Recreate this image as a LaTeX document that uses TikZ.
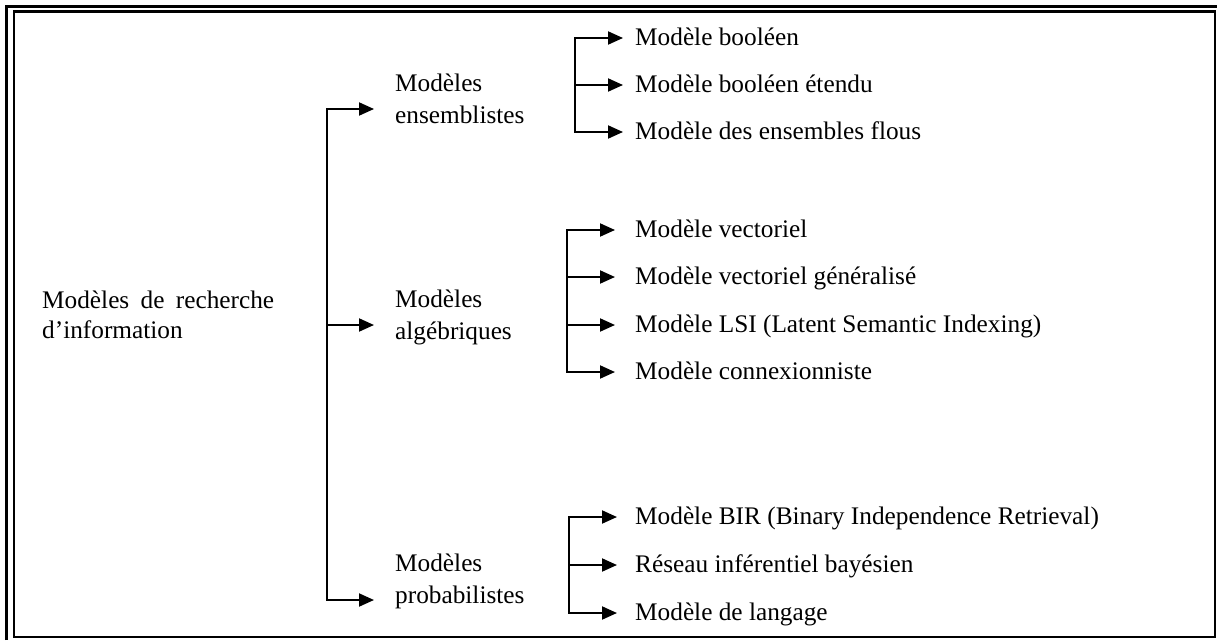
\documentclass[tikz,border=0pt]{standalone}
\usepackage{fontspec}
\setmainfont{Liberation Serif}
\usetikzlibrary{arrows.meta}
\begin{document}
\begin{tikzpicture}[x=1pt,y=-1pt,
  conn/.style={line width=2pt,line cap=rect},
  arr/.style={conn,-{Triangle[length=15pt,width=13pt]}},
  frameline/.style={line width=3pt},
  rootlabel/.style={anchor=north west,inner sep=0pt,text width=232pt,align=justify,
    font=\fontsize{25.3}{30}\selectfont},
  midlabel/.style={anchor=north west,inner sep=0pt,align=left,
    font=\fontsize{25.3}{32}\selectfont},
  leaflabel/.style={anchor=base west,inner sep=0pt,font=\fontsize{25.3}{30}\selectfont}]
\useasboundingbox (0,0) rectangle (1217,640);

% double frame
\draw[frameline] (6.5,640) -- (6.5,6.5) -- (1217,6.5);
\draw[line width=2.5pt] (14,11.5) rectangle (1215,637);

% root and first level
\node[rootlabel] (root) at (42,291) {Modèles de recherche d’information};
\node[midlabel] (m1) at (395,74)  {Modèles\\ensemblistes};
\node[midlabel] (m2) at (395,290) {Modèles\\algébriques};
\node[midlabel] (m3) at (395,554) {Modèles\\probabilistes};

\coordinate (s1) at (327,109);
\coordinate (s2) at (327,325);
\coordinate (s3) at (327,600);
\draw[conn] (s1) -- (s3);
\draw[arr,shorten >=21pt] (s1) -- (m1.west |- s1);
\draw[arr,shorten >=21pt] (s2) -- (m2.west |- s2);
\draw[arr,shorten >=21pt] (s3) -- (m3.west |- s3);

% set-theoretic models
\node[leaflabel] (a1) at (635,45.5)  {Modèle booléen};
\node[leaflabel] (a2) at (635,92.5)  {Modèle booléen étendu};
\node[leaflabel] (a3) at (635,139.5) {Modèle des ensembles flous};
\coordinate (ga1) at (575,38);
\coordinate (ga2) at (575,85);
\coordinate (ga3) at (575,132);
\draw[conn] (ga1) -- (ga3);
\draw[arr,shorten >=12pt] (ga1) -- (a1.west |- ga1);
\draw[arr,shorten >=12pt] (ga2) -- (a2.west |- ga2);
\draw[arr,shorten >=12pt] (ga3) -- (a3.west |- ga3);

% algebraic models
\node[leaflabel] (b1) at (635,237.5) {Modèle vectoriel};
\node[leaflabel] (b2) at (635,284.5) {Modèle vectoriel généralisé};
\node[leaflabel] (b3) at (635,332.5) {Modèle LSI (Latent Semantic Indexing)};
\node[leaflabel] (b4) at (635,379.5) {Modèle connexionniste};
\coordinate (gb1) at (567,230);
\coordinate (gb2) at (567,277);
\coordinate (gb3) at (567,325);
\coordinate (gb4) at (567,372);
\draw[conn] (gb1) -- (gb4);
\draw[arr,shorten >=20pt] (gb1) -- (b1.west |- gb1);
\draw[arr,shorten >=20pt] (gb2) -- (b2.west |- gb2);
\draw[arr,shorten >=20pt] (gb3) -- (b3.west |- gb3);
\draw[arr,shorten >=20pt] (gb4) -- (b4.west |- gb4);

% probabilistic models
\node[leaflabel] (c1) at (635,524.5) {Modèle BIR (Binary Independence Retrieval)};
\node[leaflabel] (c2) at (635,572.5) {Réseau inférentiel bayésien};
\node[leaflabel] (c3) at (635,620.5) {Modèle de langage};
\coordinate (gc1) at (569,517);
\coordinate (gc2) at (569,565);
\coordinate (gc3) at (569,613);
\draw[conn] (gc1) -- (gc3);
\draw[arr,shorten >=18pt] (gc1) -- (c1.west |- gc1);
\draw[arr,shorten >=18pt] (gc2) -- (c2.west |- gc2);
\draw[arr,shorten >=18pt] (gc3) -- (c3.west |- gc3);
\end{tikzpicture}
\end{document}
